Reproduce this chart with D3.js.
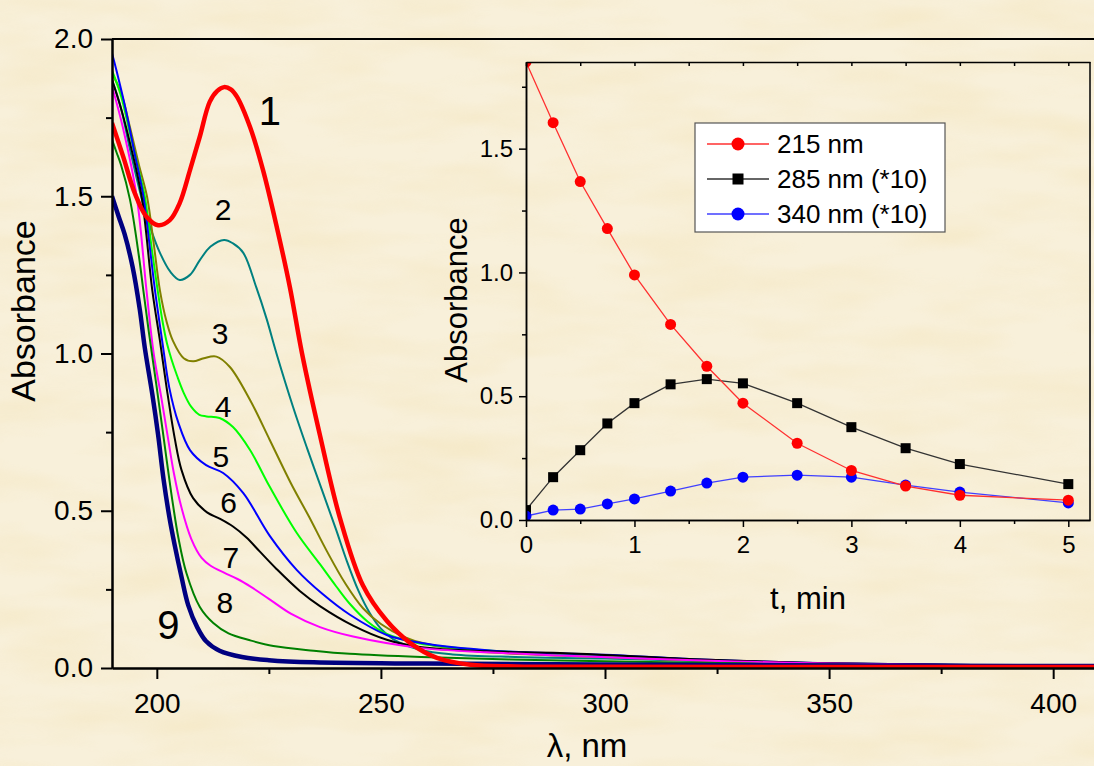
<!DOCTYPE html>
<html>
<head>
<meta charset="utf-8">
<script src="https://cdn.jsdelivr.net/npm/d3@7"></script>
<style>
  body { margin: 0; background: #f6eed6; }
  #chart { width: 1094px; height: 766px; }
  text { font-family: "Liberation Sans", Arial, sans-serif; fill: #000; }
</style>
</head>
<body>
<div id="chart"></div>
<script>
// spectra 1..9 : [wavelength nm, absorbance]
const spec1 = [[190,1.733],[192.5,1.626],[195.1,1.509],[197.7,1.435],[200.3,1.408],[202.9,1.424],[205.1,1.478],[207.4,1.583],[209.6,1.69],[211.8,1.80],[213.5,1.835],[215,1.847],[216.5,1.84],[217.9,1.816],[220.8,1.72],[223.7,1.583],[226.8,1.40],[229.7,1.21],[232.4,1.0],[236.4,0.74],[240.8,0.48],[246,0.262],[251.3,0.15],[256.5,0.08],[262.5,0.032],[270,0.01],[280,0.005],[300,0.004],[350,0.003],[410,0.003]];
const spec2 = [[190,1.87],[192,1.78],[194,1.65],[196.9,1.478],[198.8,1.39],[200.7,1.32],[203,1.26],[205.1,1.234],[207.4,1.25],[209.6,1.297],[212,1.34],[215,1.361],[217,1.35],[219.3,1.32],[222.2,1.21],[224.5,1.11],[226.7,1.0],[230.4,0.83],[233.5,0.7],[237,0.56],[240,0.44],[242.4,0.34],[245,0.245],[247.5,0.175],[250,0.125],[252.7,0.092],[258.7,0.058],[266,0.043],[280,0.035],[300,0.03],[320,0.022],[350,0.013],[410,0.006]];
const spec3 = [[190,1.89],[192,1.83],[194,1.72],[196,1.6],[197.8,1.5],[199.3,1.35],[200.7,1.2],[202.2,1.1],[203.6,1.04],[206,0.985],[208.1,0.975],[210.5,0.985],[213.3,0.99],[216.3,0.957],[220.8,0.852],[225.2,0.725],[230,0.585],[234,0.48],[238,0.37],[242,0.27],[246,0.19],[250,0.14],[255,0.1],[260,0.077],[270,0.055],[285,0.042],[300,0.035],[320,0.024],[350,0.013],[410,0.006]];
const spec4 = [[190,1.90],[192,1.82],[194,1.70],[196,1.58],[197.3,1.50],[199,1.32],[200.2,1.2],[201.3,1.1],[202.3,1.03],[203.3,0.98],[204.5,0.93],[206,0.875],[207.7,0.83],[209.5,0.805],[211.1,0.80],[214,0.795],[217,0.766],[220.8,0.693],[225.2,0.576],[231.2,0.43],[236.4,0.33],[240,0.26],[243,0.205],[247,0.148],[251.3,0.108],[258.7,0.078],[270,0.06],[285,0.047],[300,0.04],[320,0.026],[350,0.014],[410,0.006]];
const spec5 = [[190,1.955],[191,1.9],[193,1.78],[195,1.64],[197,1.5],[198.5,1.33],[199.6,1.2],[201.3,1.03],[202.8,0.89],[204.8,0.78],[207.4,0.693],[211,0.645],[214.8,0.62],[219.3,0.556],[225.2,0.42],[231.2,0.312],[237,0.235],[243,0.17],[251.3,0.105],[258.7,0.08],[275,0.055],[300,0.042],[320,0.028],[350,0.015],[410,0.006]];
const spec6 = [[190,1.87],[192,1.78],[194,1.67],[196.6,1.5],[199,1.2],[200.7,1.04],[202.2,0.89],[204,0.73],[205.5,0.63],[208.1,0.54],[211.2,0.495],[214,0.475],[217,0.45],[220,0.415],[223,0.37],[226.7,0.315],[231.9,0.245],[236.4,0.197],[243.8,0.135],[251.3,0.09],[258.7,0.067],[273.6,0.053],[290,0.048],[320,0.028],[350,0.015],[410,0.006]];
const spec7 = [[190,1.85],[192.4,1.72],[195.5,1.5],[197.7,1.2],[199.3,1.0],[201,0.86],[202.5,0.73],[203.8,0.62],[205.5,0.51],[207.7,0.41],[210,0.35],[212,0.325],[215,0.303],[218,0.283],[221,0.258],[225,0.22],[230,0.172],[236.4,0.13],[243.8,0.1],[258.7,0.064],[273.6,0.05],[290,0.04],[320,0.025],[350,0.014],[410,0.006]];
const spec8 = [[190,1.68],[191,1.64],[192,1.6],[194,1.49],[196,1.31],[197,1.2],[198.2,1.07],[199.9,0.9],[201.4,0.745],[202.5,0.63],[203.6,0.52],[204.8,0.415],[206.6,0.302],[209.6,0.194],[212.6,0.143],[216,0.11],[220.8,0.088],[226,0.07],[235,0.055],[243,0.045],[259,0.035],[290,0.024],[320,0.017],[350,0.011],[410,0.006]];
const spec9 = [[190,1.50],[191.5,1.435],[192.8,1.38],[194.6,1.275],[196.2,1.14],[197.3,1.02],[199,0.87],[200.3,0.74],[201.5,0.6],[202.8,0.48],[204,0.39],[205.5,0.29],[207,0.2],[209,0.13],[211,0.085],[214,0.055],[219,0.035],[225,0.025],[235,0.018],[260,0.014],[300,0.011],[350,0.008],[410,0.006]];

const specNames = ["1","2","3","4","5","6","7","8","9"];
// label anchor (nm, absorbance) for each curve number
const specLabelAt = [[225.2,1.771],[214.8,1.459],[214.1,1.065],[214.8,0.833],[214.3,0.674],[216,0.528],[216.5,0.353],[215.2,0.21],[202.6,0.137]];

const xMajor = [200, 250, 300, 350, 400];
const xMinor = [225, 275, 325, 375];
const yMajor = [0, 0.5, 1.0, 1.5, 2.0];
const yMinor = [0.25, 0.75, 1.25, 1.75];

// inset: kinetics
const times = [0, 0.25, 0.5, 0.75, 1, 1.333, 1.667, 2, 2.5, 3, 3.5, 4, 5];
const a215 = [1.85, 1.605, 1.367, 1.177, 0.99, 0.79, 0.621, 0.472, 0.31, 0.2, 0.137, 0.10, 0.08];
const a285 = [0.04, 0.173, 0.282, 0.39, 0.472, 0.548, 0.569, 0.552, 0.472, 0.375, 0.29, 0.226, 0.145];
const a340 = [0.016, 0.04, 0.044, 0.065, 0.085, 0.117, 0.149, 0.173, 0.181, 0.173, 0.141, 0.113, 0.069];
const insetNames = ["215 nm", "285 nm (*10)", "340 nm (*10)"];
const tMajor = [0, 1, 2, 3, 4, 5];
const tMinor = [0.5, 1.5, 2.5, 3.5, 4.5];
const iyMajor = [0, 0.5, 1.0, 1.5];
const iyMinorTicks = [0.25, 0.75, 1.25, 1.75];

/*
  CANVAS
*/
const width = 1094, height = 766;
const svg = d3.select("#chart").append("svg")
    .attr("width", width)
    .attr("height", height);

const defs = svg.append("defs");
const paper = defs.append("filter").attr("id", "paper")
    .attr("x", 0).attr("y", 0).attr("width", "100%").attr("height", "100%");
paper.append("feTurbulence")
    .attr("type", "fractalNoise")
    .attr("baseFrequency", "0.008 0.03")
    .attr("numOctaves", 3)
    .attr("seed", 7);
paper.append("feColorMatrix")
    .attr("type", "matrix")
    .attr("values", "0 0 0 0 0.90  0 0 0 0 0.78  0 0 0 0 0.50  1.8 0 0 0 -0.68");

svg.append("rect").attr("width", width).attr("height", height).attr("fill", "#f8f0da");
svg.append("rect").attr("width", width).attr("height", height)
    .attr("filter", "url(#paper)").attr("opacity", 0.55);

/*
  MAIN PLOT
*/
const x = d3.scaleLinear().domain([190, 410]).range([112, 1098]);
const y = d3.scaleLinear().domain([0, 2]).range([668, 39]);

defs.append("clipPath").attr("id", "mainClip")
    .append("rect").attr("x", 112).attr("y", 30)
    .attr("width", 986).attr("height", 638);

const specs = [spec1, spec2, spec3, spec4, spec5, spec6, spec7, spec8, spec9];
const specColors = ["#ff0000", "#008080", "#808000", "#00ff00", "#0000ff", "#000000", "#ff00ff", "#008000", "#000080"];
const specWidths = [4.5, 2, 2, 2, 2, 2, 2, 2, 4.5];

const line = d3.line()
    .x(d => x(d[0]))
    .y(d => y(d[1]))
    .curve(d3.curveCatmullRom.alpha(0.5));

const curves = svg.append("g").attr("clip-path", "url(#mainClip)");
// draw thin curves first, then the thick red one
[1, 2, 3, 4, 5, 6, 7, 8, 0].forEach(function(i) {
    curves.append("path")
        .attr("d", line(specs[i]))
        .attr("fill", "none")
        .attr("stroke", specColors[i])
        .attr("stroke-width", specWidths[i])
        .attr("stroke-linejoin", "round");
});

svg.selectAll(".specLabel")
    .data(specNames)
    .enter()
    .append("text")
        .attr("class", "specLabel")
        .attr("x", (d, i) => x(specLabelAt[i][0]))
        .attr("y", (d, i) => y(specLabelAt[i][1]))
        .attr("dy", "0.36em")
        .attr("text-anchor", "middle")
        .style("font-size", (d, i) => (i === 0 || i === 8) ? "40px" : "30px")
        .text(d => d);

// axes
function styleAxis(g, w) {
    g.select(".domain").attr("stroke", "#000").attr("stroke-width", w);
    g.selectAll(".tick line").attr("stroke", "#000").attr("stroke-width", w);
}

const xAxis = svg.append("g")
    .attr("transform", "translate(0,668)")
    .call(d3.axisBottom(x).tickValues(xMajor).tickSize(11).tickSizeOuter(0).tickPadding(14).tickFormat(d3.format("d")));
xAxis.selectAll("text").style("font-size", "28px");
styleAxis(xAxis, 2);

const xMinorAxis = svg.append("g")
    .attr("transform", "translate(0,668)")
    .call(d3.axisBottom(x).tickValues(xMinor).tickSize(6).tickSizeOuter(0).tickFormat(""));
styleAxis(xMinorAxis, 2);

const yAxis = svg.append("g")
    .attr("transform", "translate(112,0)")
    .call(d3.axisLeft(y).tickValues(yMajor).tickSize(11).tickSizeOuter(0).tickPadding(8).tickFormat(d3.format(".1f")));
yAxis.selectAll("text").style("font-size", "28px");
styleAxis(yAxis, 2);

const yMinorAxis = svg.append("g")
    .attr("transform", "translate(112,0)")
    .call(d3.axisLeft(y).tickValues(yMinor).tickSize(6).tickSizeOuter(0).tickFormat(""));
styleAxis(yMinorAxis, 2);

svg.append("line")
    .attr("x1", 112).attr("x2", width)
    .attr("y1", y(2)).attr("y2", y(2))
    .attr("stroke", "#000").attr("stroke-width", 2);

svg.append("text")
    .attr("transform", "translate(35,311) rotate(-90)")
    .attr("text-anchor", "middle")
    .style("font-size", "34px")
    .text("Absorbance");

svg.append("text")
    .attr("x", 587).attr("y", 757)
    .attr("text-anchor", "middle")
    .style("font-size", "33px")
    .text("λ, nm");

/*
  INSET
*/
const xi = d3.scaleLinear().domain([0, 5.2]).range([526, 1090]);
const yi = d3.scaleLinear().domain([0, 1.85]).range([520, 62]);

defs.append("clipPath").attr("id", "insetClip")
    .append("rect").attr("x", 526).attr("y", 62)
    .attr("width", 564).attr("height", 458);

const insetSeries = [a215, a285, a340];
const insetColors = ["#ff0000", "#000000", "#0000ff"];
const insetLineColors = ["#ff3030", "#333333", "#4040ff"];
const insetShapes = ["circle", "square", "circle"];

const iline = d3.line()
    .x(d => xi(d[0]))
    .y(d => yi(d[1]));

const inset = svg.append("g").attr("clip-path", "url(#insetClip)");

[1, 2, 0].forEach(function(s) {
    const pts = times.map((t, i) => [t, insetSeries[s][i]]);
    inset.append("path")
        .attr("d", iline(pts))
        .attr("fill", "none")
        .attr("stroke", insetLineColors[s])
        .attr("stroke-width", 1.3);
    if (insetShapes[s] === "circle") {
        inset.selectAll(".pt" + s).data(pts).enter()
            .append("circle")
            .attr("class", "pt" + s)
            .attr("cx", d => xi(d[0]))
            .attr("cy", d => yi(d[1]))
            .attr("r", 5.5)
            .attr("fill", insetColors[s]);
    } else {
        inset.selectAll(".pt" + s).data(pts).enter()
            .append("rect")
            .attr("class", "pt" + s)
            .attr("x", d => xi(d[0]) - 5)
            .attr("y", d => yi(d[1]) - 5)
            .attr("width", 10).attr("height", 10)
            .attr("fill", insetColors[s]);
    }
});

const ixAxis = svg.append("g")
    .attr("transform", "translate(0,520)")
    .call(d3.axisBottom(xi).tickValues(tMajor).tickSize(7).tickSizeOuter(0).tickPadding(9).tickFormat(d3.format("d")));
ixAxis.selectAll("text").style("font-size", "24px");
styleAxis(ixAxis, 1.5);

const ixMinorAxis = svg.append("g")
    .attr("transform", "translate(0,520)")
    .call(d3.axisBottom(xi).tickValues(tMinor).tickSize(4).tickSizeOuter(0).tickFormat(""));
styleAxis(ixMinorAxis, 1.5);

const iyAxis = svg.append("g")
    .attr("transform", "translate(526,0)")
    .call(d3.axisLeft(yi).tickValues(iyMajor).tickSize(7).tickSizeOuter(0).tickPadding(6).tickFormat(d3.format(".1f")));
iyAxis.selectAll("text").style("font-size", "24px");
styleAxis(iyAxis, 1.5);

const iyMinorAxis = svg.append("g")
    .attr("transform", "translate(526,0)")
    .call(d3.axisLeft(yi).tickValues(iyMinorTicks.filter(v => v < 1.85)).tickSize(4).tickSizeOuter(0).tickFormat(""));
styleAxis(iyMinorAxis, 1.5);

// top and right frame, small inward ticks on top
const itop = svg.append("g")
    .attr("transform", "translate(0,62)")
    .call(d3.axisBottom(xi).tickValues(tMajor.concat(tMinor)).tickSize(4).tickSizeOuter(0).tickFormat(""));
styleAxis(itop, 1.5);

svg.append("line")
    .attr("x1", 1090).attr("x2", 1090)
    .attr("y1", 62).attr("y2", 520)
    .attr("stroke", "#000").attr("stroke-width", 1.5);

svg.append("text")
    .attr("transform", "translate(467,300) rotate(-90)")
    .attr("text-anchor", "middle")
    .style("font-size", "31px")
    .text("Absorbance");

svg.append("text")
    .attr("x", 808).attr("y", 609)
    .attr("text-anchor", "middle")
    .style("font-size", "31px")
    .text("t, min");

// legend
const legend = svg.append("g").attr("transform", "translate(695,123)");
legend.append("rect")
    .attr("width", 250).attr("height", 109)
    .attr("fill", "#fff")
    .attr("stroke", "#555").attr("stroke-width", 1.2);

insetNames.forEach(function(name, i) {
    const ly = 21 + i * 35;
    legend.append("line")
        .attr("x1", 12).attr("x2", 74)
        .attr("y1", ly).attr("y2", ly)
        .attr("stroke", insetLineColors[i]).attr("stroke-width", 1.3);
    if (insetShapes[i] === "circle") {
        legend.append("circle").attr("cx", 43).attr("cy", ly).attr("r", 6.5).attr("fill", insetColors[i]);
    } else {
        legend.append("rect").attr("x", 37.5).attr("y", ly - 5.5).attr("width", 11).attr("height", 11).attr("fill", insetColors[i]);
    }
    legend.append("text")
        .attr("x", 82).attr("y", ly)
        .attr("dy", "0.36em")
        .style("font-size", "26px")
        .text(name);
});
</script>
</body>
</html>
